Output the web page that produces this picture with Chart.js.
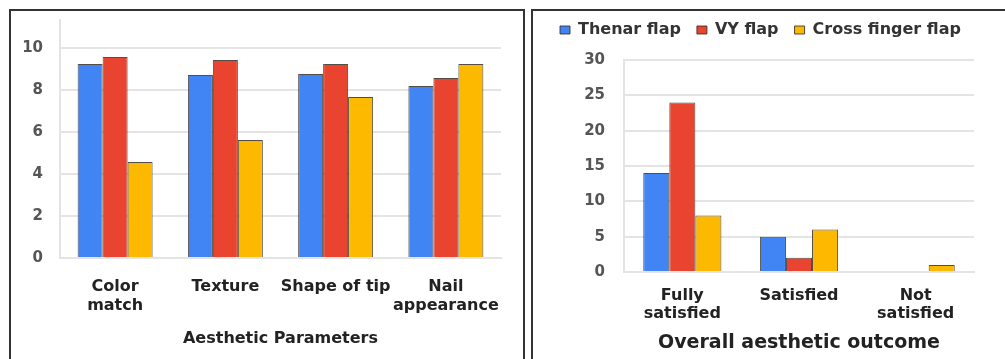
<!DOCTYPE html>
<html>
<head>
<meta charset="utf-8">
<title>Flap aesthetic outcomes</title>
<script src="https://cdn.jsdelivr.net/npm/chart.js@4.4.1/dist/chart.umd.min.js"></script>
<style>
  html, body { margin: 0; padding: 0; background: #fff; }
  body { width: 1005px; height: 359px; overflow: hidden; position: relative; }
  .frame { position: absolute; box-sizing: border-box; border: 2px solid #333; }
  canvas { position: absolute; }
</style>
</head>
<body>
<div class="frame" style="left:9px; top:9px; width:516px; height:380px;"></div>
<div class="frame" style="left:531px; top:9px; width:500px; height:380px;"></div>
<canvas id="params" width="512" height="347" style="left:11px; top:12px;"></canvas>
<canvas id="overall" width="471" height="353" style="left:534px; top:6px;"></canvas>
<script>
// Series names shared by both charts
const seriesNames = ['Thenar flap', 'VY flap', 'Cross finger flap'];
const seriesColors = ['#4185F4', '#E8442F', '#FDB900'];
const barEdge = 'rgba(55,45,35,0.85)';

// Mean scores per aesthetic parameter
const paramCategories = [['Color', 'match'], 'Texture', 'Shape of tip', ['Nail', 'appearance']];
const thenarScores = [9.24, 8.71, 8.76, 8.19];
const vyScores = [9.57, 9.43, 9.24, 8.57];
const crossScores = [4.57, 5.62, 7.67, 9.24];
const paramTicks = [0, 2, 4, 6, 8, 10];

// Patient counts per overall outcome
const outcomeCategories = [['Fully', 'satisfied'], 'Satisfied', ['Not', 'satisfied']];
const thenarCounts = [14, 5, 0];
const vyCounts = [24, 2, 0];
const crossCounts = [8, 6, 1];
const outcomeTicks = [0, 5, 10, 15, 20, 25, 30];

Chart.defaults.font.family = "'DejaVu Sans', 'Liberation Sans', sans-serif";
Chart.defaults.font.weight = 'bold';

const gridColor = '#e4e4e4';

function makeSets(values) {
  return values.map((v, i) => ({
    label: seriesNames[i],
    data: v,
    backgroundColor: seriesColors[i],
    borderColor: barEdge,
    borderWidth: 1
  }));
}

function keepTicks(list) {
  return function (scale) {
    scale.ticks = list.map(v => ({ value: v }));
  };
}

function fixedSize(prop, size) {
  return function (scale) {
    scale[prop] = size;
    scale.paddingTop = 0;
    scale.paddingBottom = 0;
    scale.paddingLeft = 0;
    scale.paddingRight = 0;
  };
}

new Chart(document.getElementById('params'), {
  type: 'bar',
  data: {
    labels: paramCategories,
    datasets: makeSets([thenarScores, vyScores, crossScores])
  },
  options: {
    responsive: false,
    animation: false,
    categoryPercentage: 0.68,
    barPercentage: 1.0,
    layout: { padding: { top: 8, right: 22, left: 0, bottom: 0 } },
    plugins: { legend: { display: false }, tooltip: { enabled: false } },
    scales: {
      x: {
        grid: { display: false, drawTicks: false },
        border: { color: gridColor, width: 2 },
        ticks: {
          color: '#222',
          padding: 19,
          autoSkip: false,
          font: { size: 16, weight: 'bold', lineHeight: 1.2 },
          maxRotation: 0
        },
        title: {
          display: true,
          text: 'Aesthetic Parameters',
          color: '#222',
          font: { size: 16, weight: 'bold', lineHeight: 1.2 },
          padding: { top: 0, bottom: 11 }
        },
        afterFit: fixedSize('height', 101)
      },
      y: {
        min: 0,
        max: 11.33,
        afterBuildTicks: keepTicks(paramTicks),
        grid: { color: gridColor, lineWidth: 2, drawTicks: false },
        border: { color: gridColor, width: 2 },
        ticks: { color: '#555', padding: 17, font: { size: 15, weight: 'bold' } },
        afterFit: fixedSize('width', 49)
      }
    }
  }
});

// Leaves room between the legend row and the plot
const legendRoom = {
  id: 'legendRoom',
  beforeInit(chart) {
    const fit = chart.legend.fit;
    chart.legend.fit = function () {
      fit.call(this);
      this.height = 54;
    };
  }
};

new Chart(document.getElementById('overall'), {
  type: 'bar',
  data: {
    labels: outcomeCategories,
    datasets: makeSets([thenarCounts, vyCounts, crossCounts])
  },
  plugins: [legendRoom],
  options: {
    responsive: false,
    animation: false,
    categoryPercentage: 0.67,
    barPercentage: 1.0,
    layout: { padding: { top: 0, right: 0, left: 10, bottom: 0 } },
    plugins: {
      tooltip: { enabled: false },
      legend: {
        position: 'top',
        align: 'start',
        labels: {
          color: '#333',
          boxWidth: 10,
          boxHeight: 8,
          padding: 16,
          font: { size: 16, weight: 'bold' }
        }
      }
    },
    scales: {
      x: {
        grid: { display: false, drawTicks: false },
        border: { color: gridColor, width: 2 },
        ticks: {
          color: '#222',
          padding: 15,
          autoSkip: false,
          font: { size: 16, weight: 'bold', lineHeight: 1.1 },
          maxRotation: 0
        },
        title: {
          display: true,
          text: 'Overall aesthetic outcome',
          color: '#222',
          font: { size: 19, weight: 'bold', lineHeight: 1.2 },
          padding: { top: 0, bottom: 5 }
        },
        afterFit: fixedSize('height', 87)
      },
      y: {
        min: 0,
        max: 30,
        afterBuildTicks: keepTicks(outcomeTicks),
        grid: { color: gridColor, lineWidth: 2, drawTicks: false },
        border: { color: gridColor, width: 2 },
        ticks: { color: '#555', padding: 19, font: { size: 15, weight: 'bold' } },
        afterFit: fixedSize('width', 80)
      },
      spare: {
        type: 'linear',
        position: 'right',
        display: true,
        grid: { display: false, drawTicks: false },
        border: { display: false },
        ticks: { display: false },
        afterFit: fixedSize('width', 31)
      }
    }
  }
});
</script>
</body>
</html>
